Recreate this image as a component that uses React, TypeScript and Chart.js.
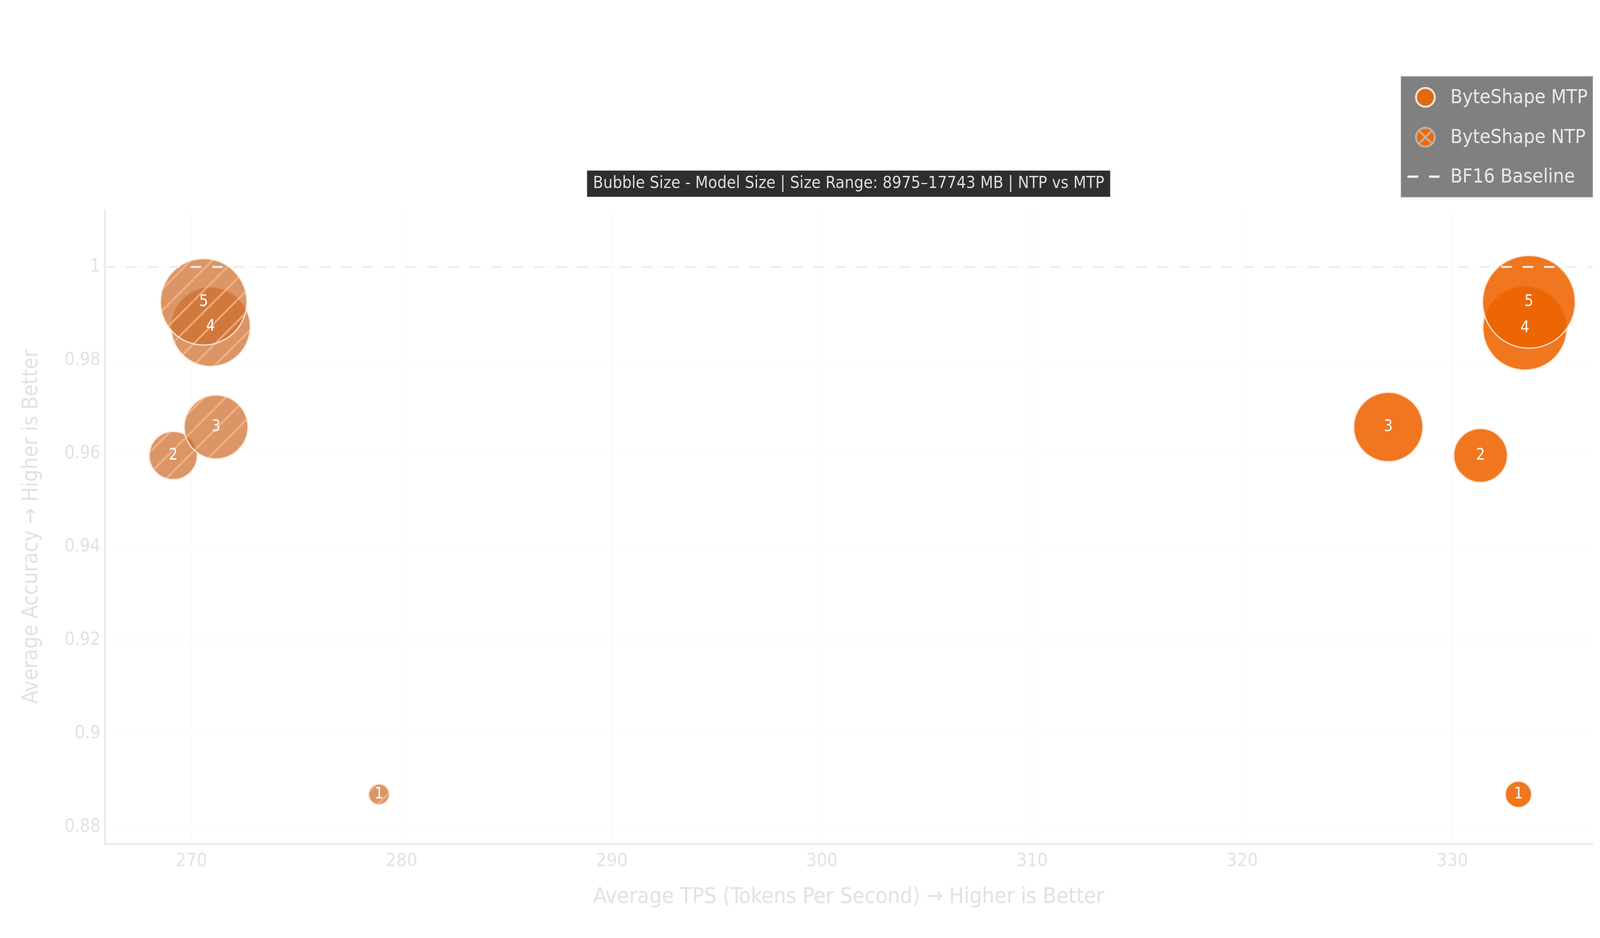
import { useEffect, useRef } from "react";
import { Chart, registerables } from "chart.js";

Chart.register(...registerables);

const FONT = '"DejaVu Sans Condensed", "Liberation Sans Narrow", "DejaVu Sans", sans-serif';

// config numbers shown inside the bubbles
const configs = ["1", "2", "3", "4", "5"];

// ByteShape MTP
const mtpTps = [333.14, 331.34, 326.95, 333.45, 333.64];
const mtpAcc = [0.887, 0.9596, 0.9657, 0.9869, 0.9925];
const mtpSizeMB = [9640, 12980, 14880, 16690, 17743];

// ByteShape NTP
const ntpTps = [278.92, 269.13, 271.17, 270.91, 270.58];
const ntpAcc = [0.887, 0.9596, 0.9657, 0.9872, 0.9925];
const ntpSizeMB = [8975, 12310, 14220, 16120, 16980];

const baselineAcc = 1;
const sizeMin = 8975;
const sizeMax = 17743;

const xMin = 265.87;
const xMax = 336.67;
const yMin = 0.8764;
const yMax = 1.0123;

const titleText = "Bubble Size - Model Size | Size Range: 8975–17743 MB | NTP vs MTP";
const xTitle = "Average TPS (Tokens Per Second) → Higher is Better";
const yTitle = "Average Accuracy → Higher is Better";

function radius(mb: number) {
  return 26.5 + ((mb - sizeMin) / (sizeMax - sizeMin)) * 92;
}

function makeHatch(): CanvasPattern | string {
  const s = 55;
  const c = document.createElement("canvas");
  c.width = s;
  c.height = s;
  const g = c.getContext("2d");
  if (!g) return "rgba(205,110,45,0.72)";
  g.fillStyle = "rgba(205,110,45,0.72)";
  g.fillRect(0, 0, s, s);
  g.strokeStyle = "rgba(255,195,150,0.6)";
  g.lineWidth = 5;
  g.beginPath();
  for (const k of [-1, 0, 1]) {
    g.moveTo(k * s, s);
    g.lineTo(k * s + s, 0);
  }
  g.stroke();
  return g.createPattern(c, "repeat") || "rgba(205,110,45,0.72)";
}

const bubbleLabels = {
  id: "bubbleLabels",
  afterDatasetsDraw(chart: any) {
    const ctx = chart.ctx;
    ctx.save();
    ctx.font = `40px ${FONT}`;
    ctx.fillStyle = "#ffffff";
    ctx.textAlign = "center";
    ctx.textBaseline = "middle";
    chart.data.datasets.forEach((ds: any, di: number) => {
      if (ds.type === "line") return;
      chart.getDatasetMeta(di).data.forEach((el: any, i: number) => {
        ctx.fillText(configs[i], el.x, el.y);
      });
    });
    ctx.restore();
  },
};

const titleBox = {
  id: "titleBox",
  beforeDraw(chart: any) {
    const tb = chart.titleBlock;
    if (!tb) return;
    const ctx = chart.ctx;
    ctx.save();
    ctx.font = `42.5px ${FONT}`;
    const w = ctx.measureText(titleText).width + 30;
    const cx = (tb.left + tb.right) / 2;
    const cy = tb.top + 8 + 25.5;
    ctx.fillStyle = "#2e2e2e";
    ctx.fillRect(cx - w / 2, cy - 33, w, 67);
    ctx.strokeStyle = "#8a8a8a";
    ctx.lineWidth = 1;
    ctx.strokeRect(cx - w / 2, cy - 33, w, 67);
    ctx.restore();
  },
};

const boxLegend = {
  id: "boxLegend",
  afterDraw(chart: any) {
    const ctx = chart.ctx;
    const right = chart.chartArea.right;
    const left = right - 490;
    const top = 196;
    ctx.save();
    ctx.fillStyle = "#808080";
    ctx.fillRect(left, top, 490, 308);
    ctx.strokeStyle = "#979797";
    ctx.lineWidth = 2;
    ctx.strokeRect(left, top, 490, 308);
    const mx = left + 62;
    const rows = [top + 53, top + 155, top + 256];
    // MTP marker
    ctx.beginPath();
    ctx.arc(mx, rows[0], 24, 0, Math.PI * 2);
    ctx.fillStyle = "#e4680e";
    ctx.fill();
    ctx.lineWidth = 5;
    ctx.strokeStyle = "#ece6e0";
    ctx.stroke();
    // NTP marker
    ctx.beginPath();
    ctx.arc(mx, rows[1], 24, 0, Math.PI * 2);
    ctx.fillStyle = "#ee6a00";
    ctx.fill();
    ctx.strokeStyle = "#bab2ad";
    ctx.stroke();
    const d = 17;
    ctx.beginPath();
    ctx.moveTo(mx - d, rows[1] - d);
    ctx.lineTo(mx + d, rows[1] + d);
    ctx.moveTo(mx + d, rows[1] - d);
    ctx.lineTo(mx - d, rows[1] + d);
    ctx.stroke();
    // baseline marker
    ctx.strokeStyle = "#f0f0f0";
    ctx.lineWidth = 6;
    ctx.beginPath();
    ctx.moveTo(left + 16, rows[2]);
    ctx.lineTo(left + 44, rows[2]);
    ctx.moveTo(left + 71, rows[2]);
    ctx.lineTo(left + 98, rows[2]);
    ctx.stroke();
    ctx.fillStyle = "#e8e8e8";
    ctx.font = `50px ${FONT}`;
    ctx.textAlign = "left";
    ctx.textBaseline = "middle";
    chart.data.datasets.forEach((ds: any, i: number) => {
      ctx.fillText(ds.label, left + 126, rows[i] + 2);
    });
    ctx.restore();
  },
};

export default function App() {
  const ref = useRef<HTMLCanvasElement | null>(null);
  useEffect(() => {
    if (!ref.current) return;
    const hatch = makeHatch();
    const chart = new Chart(ref.current, {
      type: "bubble",
      data: {
        datasets: [
          {
            label: "ByteShape MTP",
            data: mtpTps.map((x, i) => ({ x, y: mtpAcc[i], r: radius(mtpSizeMB[i]) })),
            backgroundColor: "rgba(238,100,0,0.88)",
            borderColor: "#fbe3d2",
            borderWidth: 3,
            order: 1,
          },
          {
            label: "ByteShape NTP",
            data: ntpTps.map((x, i) => ({ x, y: ntpAcc[i], r: radius(ntpSizeMB[i]) })),
            backgroundColor: hatch as any,
            borderColor: "#fbe8da",
            borderWidth: 3,
            order: 2,
          },
          {
            type: "line",
            label: "BF16 Baseline",
            data: [
              { x: xMin, y: baselineAcc },
              { x: xMax, y: baselineAcc },
            ],
            borderColor: "#eeeeee",
            borderWidth: 5,
            borderDash: [27, 28],
            pointRadius: 0,
            order: 0,
          } as any,
        ],
      },
      options: {
        animation: false,
        responsive: true,
        maintainAspectRatio: false,
        devicePixelRatio: 1,
        events: [],
        layout: { autoPadding: false, padding: { top: 436, right: 123, left: 0, bottom: 0 } },
        plugins: {
          legend: { display: false },
          tooltip: { enabled: false },
          title: {
            display: true,
            text: titleText,
            fullSize: false,
            color: "#dcdcdc",
            font: { family: FONT, size: 42.5, weight: "normal" },
            padding: { top: 8, bottom: 41 },
          },
        },
        scales: {
          x: {
            type: "linear",
            min: xMin,
            max: xMax,
            afterFit: (s: any) => {
              s.height = 241;
            },
            ticks: {
              stepSize: 10,
              includeBounds: false,
              color: "#e2e2e2",
              padding: 17,
              font: { family: FONT, size: 47 },
            },
            grid: { color: "#f9f9f9", lineWidth: 2, drawTicks: false },
            border: { display: true, color: "#e3e3e3", width: 3 },
            title: {
              display: true,
              text: xTitle,
              color: "#e2e2e2",
              font: { family: FONT, size: 56 },
              padding: { top: 0, bottom: 71 },
            },
          },
          y: {
            type: "linear",
            min: yMin,
            max: yMax,
            afterFit: (s: any) => {
              s.width = 268;
            },
            ticks: {
              stepSize: 0.02,
              includeBounds: false,
              color: "#e2e2e2",
              padding: 11,
              font: { family: FONT, size: 46 },
              callback: (v: any) => String(+Number(v).toFixed(2)),
            },
            grid: { color: "#f9f9f9", lineWidth: 2, drawTicks: false },
            border: { display: true, color: "#e3e3e3", width: 3 },
            title: {
              display: true,
              text: yTitle,
              color: "#e2e2e2",
              font: { family: FONT, size: 55 },
              padding: { top: 48, bottom: 0 },
            },
          },
        },
      },
      plugins: [titleBox, bubbleLabels, boxLegend],
    } as any);
    return () => chart.destroy();
  }, []);

  return (
    <div style={{ position: "absolute", left: 0, top: 0, width: 4200, height: 2400, background: "#fff" }}>
      <canvas ref={ref}></canvas>
    </div>
  );
}
